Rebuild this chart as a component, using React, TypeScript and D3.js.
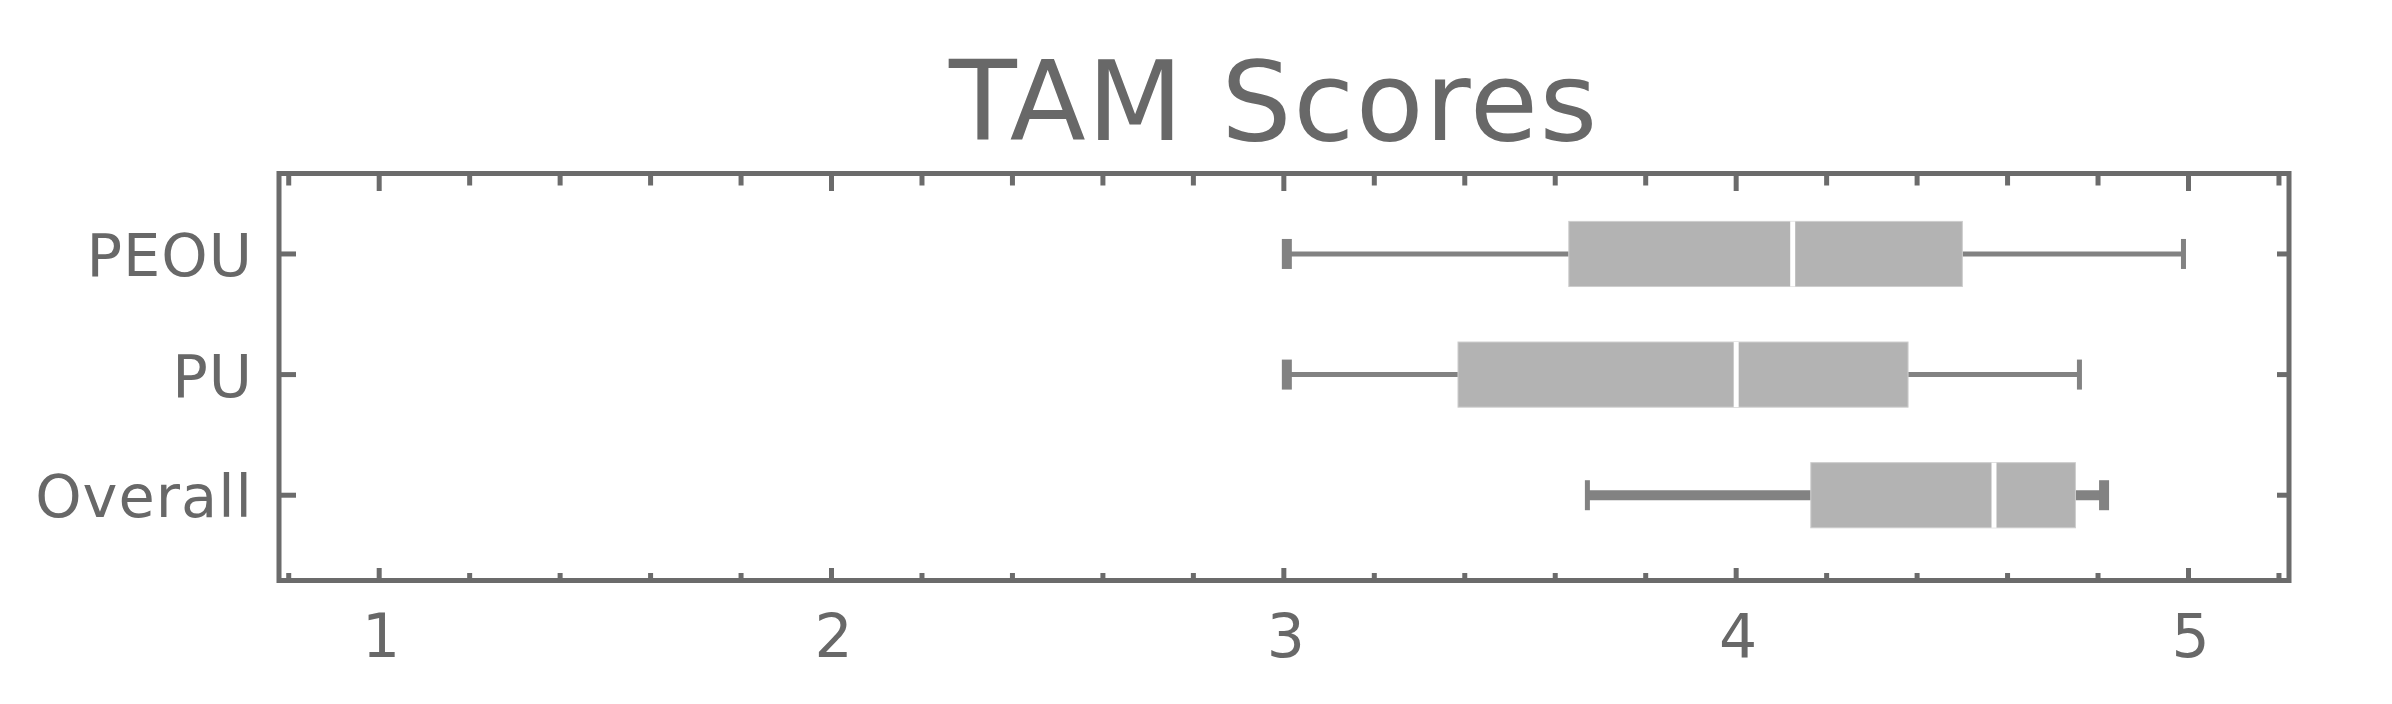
import * as d3 from "d3";
import { useEffect, useRef } from "react";

// box-whisker stats
const categories = ["PEOU", "PU", "Overall"];
const lowWhisker = [3.0, 3.0, 3.67];
const q1 = [3.63, 3.385, 4.165];
const median = [4.125, 4.0, 4.57];
const q3 = [4.5, 4.38, 4.75];
const highWhisker = [4.99, 4.76, 4.82];

const majorTicks = [1, 2, 3, 4, 5];
const minorTicks = [0.8, 1.2, 1.4, 1.6, 1.8, 2.2, 2.4, 2.6, 2.8, 3.2, 3.4, 3.6, 3.8, 4.2, 4.4, 4.6, 4.8, 5.2];
const title = "TAM Scores";

const App = () => {
    const ref = useRef<SVGSVGElement | null>(null);

    useEffect(() => {
        const width = 2392;
        const height = 704;
        const frame = { left: 279, right: 2289, top: 173.5, bottom: 580.5 };
        const frameColor = "#6b6b6b";
        const textColor = "#686868";
        const whiskerColor = "#828282";
        const font = "'DejaVu Sans', sans-serif";

        const svg = d3.select(ref.current);
        svg.selectAll("*").remove();
        svg.attr("width", width).attr("height", height);

        const x = d3.scaleLinear().domain([0.7785, 5.2222]).range([frame.left, frame.right]);
        const y = d3.scaleLinear().domain([0.333, 3.707]).range([frame.top, frame.bottom]);

        const data = categories.map((c, i) => ({
            name: c,
            pos: i + 1,
            lo: lowWhisker[i],
            q1: q1[i],
            med: median[i],
            q3: q3[i],
            hi: highWhisker[i],
        }));

        const boxHalf = (y(1.27) - y(1));
        const capHalf = 15;
        const thick = (d: { name: string }) => d.name === "Overall";

        const g = svg.append("g");

        // whiskers
        g.selectAll("line.whisker-lo")
            .data(data)
            .enter().append("line")
            .attr("x1", d => x(d.lo))
            .attr("x2", d => x(d.q1))
            .attr("y1", d => y(d.pos))
            .attr("y2", d => y(d.pos))
            .attr("stroke", whiskerColor)
            .attr("stroke-width", d => thick(d) ? 10 : 5);

        g.selectAll("line.whisker-hi")
            .data(data)
            .enter().append("line")
            .attr("x1", d => x(d.q3))
            .attr("x2", d => x(d.hi))
            .attr("y1", d => y(d.pos))
            .attr("y2", d => y(d.pos))
            .attr("stroke", whiskerColor)
            .attr("stroke-width", d => thick(d) ? 10 : 5);

        // caps
        const caps = data.flatMap(d => [
            { v: d.lo, pos: d.pos, w: thick(d) ? 5 : 10, side: 1 },
            { v: d.hi, pos: d.pos, w: thick(d) ? 10 : 5, side: -1 },
        ]);
        g.selectAll("rect.cap")
            .data(caps)
            .enter().append("rect")
            .attr("x", d => d.side > 0 ? x(d.v) - 2 : x(d.v) - d.w + 2)
            .attr("y", d => y(d.pos) - capHalf)
            .attr("width", d => d.w)
            .attr("height", capHalf * 2)
            .attr("fill", whiskerColor);

        // boxes
        g.selectAll("rect.box")
            .data(data)
            .enter().append("rect")
            .attr("x", d => x(d.q1))
            .attr("y", d => y(d.pos) - boxHalf)
            .attr("width", d => x(d.q3) - x(d.q1))
            .attr("height", boxHalf * 2)
            .attr("fill", "#b3b3b3")
            .attr("stroke", "#cdcdcd")
            .attr("stroke-width", 1);

        // medians
        g.selectAll("line.median")
            .data(data)
            .enter().append("line")
            .attr("x1", d => x(d.med))
            .attr("x2", d => x(d.med))
            .attr("y1", d => y(d.pos) - boxHalf)
            .attr("y2", d => y(d.pos) + boxHalf)
            .attr("stroke", "#ffffff")
            .attr("stroke-width", 5);

        // frame
        svg.append("rect")
            .attr("x", frame.left)
            .attr("y", frame.top)
            .attr("width", frame.right - frame.left)
            .attr("height", frame.bottom - frame.top)
            .attr("fill", "none")
            .attr("stroke", frameColor)
            .attr("stroke-width", 5);

        // x ticks, top and bottom, pointing inward
        const ticks = [
            ...majorTicks.map(v => ({ v, top: 17.5, bottom: 12.5 })),
            ...minorTicks.map(v => ({ v, top: 12, bottom: 7.5 })),
        ];
        const tg = svg.append("g").attr("stroke", frameColor).attr("stroke-width", 5);
        tg.selectAll("line.tt")
            .data(ticks)
            .enter().append("line")
            .attr("x1", d => x(d.v)).attr("x2", d => x(d.v))
            .attr("y1", frame.top).attr("y2", d => frame.top + d.top);
        tg.selectAll("line.tb")
            .data(ticks)
            .enter().append("line")
            .attr("x1", d => x(d.v)).attr("x2", d => x(d.v))
            .attr("y1", frame.bottom).attr("y2", d => frame.bottom - d.bottom);

        // y ticks
        tg.selectAll("line.yl")
            .data(data)
            .enter().append("line")
            .attr("x1", frame.left).attr("x2", frame.left + 17)
            .attr("y1", d => y(d.pos)).attr("y2", d => y(d.pos));
        tg.selectAll("line.yr")
            .data(data)
            .enter().append("line")
            .attr("x1", frame.right).attr("x2", frame.right - 12)
            .attr("y1", d => y(d.pos)).attr("y2", d => y(d.pos));

        // tick labels
        svg.append("g")
            .selectAll("text")
            .data(majorTicks)
            .enter().append("text")
            .attr("x", d => x(d) + 2)
            .attr("y", 657)
            .attr("text-anchor", "middle")
            .attr("font-family", font)
            .attr("font-size", 60)
            .attr("fill", textColor)
            .text(d => d);

        svg.append("g")
            .selectAll("text")
            .data(data)
            .enter().append("text")
            .attr("x", 253)
            .attr("y", d => y(d.pos) + 22)
            .attr("text-anchor", "end")
            .attr("font-family", font)
            .attr("font-size", 59)
            .attr("letter-spacing", 1)
            .attr("fill", textColor)
            .text(d => d.name);

        svg.append("text")
            .attr("x", 1274)
            .attr("y", 140)
            .attr("text-anchor", "middle")
            .attr("font-family", font)
            .attr("font-size", 111)
            .attr("letter-spacing", 1.5)
            .attr("fill", textColor)
            .text(title);
    }, []);

    return (
        <svg ref={ref} style={{ position: "absolute", left: 0, top: 0, display: "block", background: "#fff" }} />
    );
};

export default App;
